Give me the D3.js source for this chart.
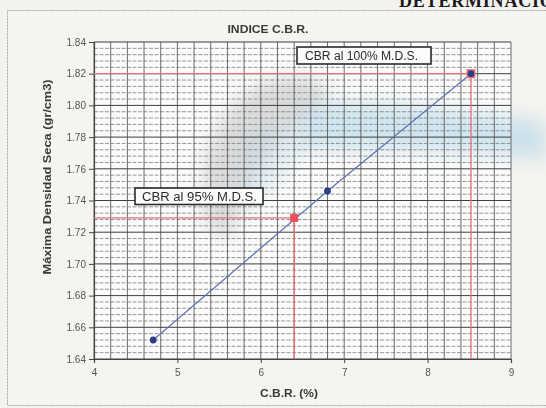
<!DOCTYPE html>
<html>
<head>
<meta charset="utf-8">
<script src="https://cdn.jsdelivr.net/npm/d3@7/dist/d3.min.js"></script>
<style>
  html, body { margin: 0; padding: 0; background: #f3f2ef; }
  svg { display: block; }
</style>
</head>
<body>
<svg id="chart" width="546" height="408"></svg>
<script>
// CBR test results: dry density vs. CBR
const cbrValues = [4.71, 6.80, 8.52];
const densityValues = [1.652, 1.746, 1.820];
const cbr95 = 6.40, density95 = 1.729;      // 95% of maximum dry density
const cbr100 = 8.52, density100 = 1.820;    // 100% of maximum dry density
const xTicks = [4, 5, 6, 7, 8, 9];
const yTicks = [1.64, 1.66, 1.68, 1.70, 1.72, 1.74, 1.76, 1.78, 1.80, 1.82, 1.84];
const chartTitle = "INDICE C.B.R.";
const pageHeading = "DETERMINACIÓN";
const xTitle = "C.B.R. (%)";
const yTitle = "Máxima Densidad Seca (gr/cm3)";
const label100 = "CBR al 100%  M.D.S.";
const label95 = "CBR al 95%  M.D.S.";

const svg = d3.select("#chart");
const font = "'Liberation Sans', Arial, sans-serif";

const x = d3.scaleLinear().domain([4, 9]).range([94, 511]);
const y = d3.scaleLinear().domain([1.64, 1.84]).range([359, 42]);

// blurred background stains on the sheet
const defs = svg.append("defs");
defs.append("filter").attr("id", "soft").attr("x", "-50%").attr("y", "-50%")
  .attr("width", "200%").attr("height", "200%")
  .append("feGaussianBlur").attr("stdDeviation", 9);

// page frame
svg.append("rect").attr("x", 7.5).attr("y", 10.5).attr("width", 600).attr("height", 395)
  .attr("fill", "#f5f4f1").attr("stroke", "#a9a9a9").attr("stroke-dasharray", "2,1");

// page heading (runs off the top and right edges of the sheet)
svg.append("text").attr("x", 399).attr("y", 6.5)
  .attr("font-family", "'Liberation Serif', 'Times New Roman', serif")
  .attr("font-weight", "bold").attr("font-size", 18).attr("fill", "#1a1a1a")
  .attr("letter-spacing", 0.8)
  .text(pageHeading);

// plot background
svg.append("rect").attr("x", x(4)).attr("y", y(1.84))
  .attr("width", x(9) - x(4)).attr("height", y(1.64) - y(1.84))
  .attr("fill", "#fbfbfa");

const stains = svg.append("g").attr("filter", "url(#soft)");
stains.append("path")
  .attr("d", "M205,220 C198,165 212,112 258,86 C288,70 318,74 332,92 C308,108 290,132 270,150 C252,175 240,205 228,245 Z")
  .attr("fill", "#c4c4c4").attr("opacity", 0.6);
stains.append("path")
  .attr("d", "M300,105 C360,95 450,108 546,122 L546,160 C450,150 380,150 300,150 Z")
  .attr("fill", "#a6cfe6").attr("opacity", 0.5);
stains.append("path")
  .attr("d", "M250,130 C280,120 300,125 310,140 C290,175 260,200 240,215 C235,180 238,150 250,130 Z")
  .attr("fill", "#b7d4e4").attr("opacity", 0.35);

// minor horizontal grid every 0.004
const minorY = d3.range(0, 51).map(i => 1.64 + i * 0.004).filter((v, i) => i % 5 !== 0);
svg.append("g").selectAll("line").data(minorY).join("line")
  .attr("x1", x(4)).attr("x2", x(9))
  .attr("y1", d => y(d)).attr("y2", d => y(d))
  .attr("stroke", "#7d7d7d").attr("stroke-width", 0.8).attr("stroke-dasharray", "4,1.5");

// vertical grid every 0.2
const gridX = d3.range(0, 26).map(i => 4 + i * 0.2);
svg.append("g").selectAll("line").data(gridX).join("line")
  .attr("x1", d => x(d)).attr("x2", d => x(d))
  .attr("y1", y(1.84)).attr("y2", y(1.64))
  .attr("stroke", "#5c5c5c").attr("stroke-width", 0.9);

// major horizontal grid
svg.append("g").selectAll("line").data(yTicks).join("line")
  .attr("x1", x(4)).attr("x2", x(9))
  .attr("y1", d => y(d)).attr("y2", d => y(d))
  .attr("stroke", "#3f3f3f").attr("stroke-width", 1);

// axes
const yAxis = svg.append("g").attr("transform", `translate(${x(4)},0)`)
  .call(d3.axisLeft(y).tickValues(yTicks).tickFormat(d3.format(".2f")).tickSize(5).tickPadding(3));
const xAxis = svg.append("g").attr("transform", `translate(0,${y(1.64)})`)
  .call(d3.axisBottom(x).tickValues(xTicks).tickFormat(d3.format("d")).tickSize(4).tickPadding(6));
[yAxis, xAxis].forEach(a => {
  a.select(".domain").attr("stroke", "#444").attr("stroke-width", 1.2);
  a.selectAll(".tick line").attr("stroke", "#444");
  a.selectAll(".tick text").attr("font-family", font).attr("font-size", 10)
    .attr("fill", "#555");
});

// reference lines for 95% and 100% density
const refColor = "#ea6f79";
const refs = [
  { cx: cbr100, cy: density100 },
  { cx: cbr95, cy: density95 }
];
refs.forEach(r => {
  svg.append("line").attr("x1", x(4)).attr("x2", x(r.cx))
    .attr("y1", y(r.cy)).attr("y2", y(r.cy))
    .attr("stroke", refColor).attr("stroke-width", 1.3);
  svg.append("line").attr("x1", x(r.cx)).attr("x2", x(r.cx))
    .attr("y1", y(r.cy)).attr("y2", y(1.64))
    .attr("stroke", refColor).attr("stroke-width", 1.3);
});

// density curve
const pts = cbrValues.map((c, i) => [c, densityValues[i]]);
svg.append("path").datum(pts)
  .attr("d", d3.line().x(d => x(d[0])).y(d => y(d[1])))
  .attr("fill", "none").attr("stroke", "#5b6fb5").attr("stroke-width", 1.1);

// reference markers
svg.append("rect").attr("x", x(cbr100) - 4.5).attr("y", y(density100) - 4.5)
  .attr("width", 9).attr("height", 9).attr("fill", "#e9707d");
svg.append("rect").attr("x", x(cbr95) - 4).attr("y", y(density95) - 4)
  .attr("width", 8).attr("height", 8).attr("fill", "#ec4f5c");

// test points
svg.append("g").selectAll("circle").data(pts).join("circle")
  .attr("cx", d => x(d[0])).attr("cy", d => y(d[1])).attr("r", 3.4)
  .attr("fill", "#2c3d86");

// annotation boxes
function labelBox(bx, by, bw, bh, txt, tx, ty, tlen) {
  svg.append("rect").attr("x", bx).attr("y", by).attr("width", bw).attr("height", bh)
    .attr("fill", "#fbfbfa").attr("stroke", "#2a2a2a").attr("stroke-width", 1.6);
  svg.append("text").attr("x", tx).attr("y", ty)
    .attr("font-family", font).attr("font-size", 12).attr("fill", "#2a2a2a")
    .attr("textLength", tlen).attr("lengthAdjust", "spacingAndGlyphs")
    .text(txt);
}
labelBox(297, 47, 134, 17, label100, 305, 59.5, 113);
labelBox(135, 188, 128, 16.5, label95, 142, 200.5, 115);

// titles
svg.append("text").attr("x", 268).attr("y", 33).attr("text-anchor", "middle")
  .attr("font-family", font).attr("font-weight", "bold").attr("font-size", 10.5)
  .attr("fill", "#3a3a3a").attr("textLength", 81).attr("lengthAdjust", "spacingAndGlyphs")
  .text(chartTitle);
svg.append("text").attr("x", 289).attr("y", 397).attr("text-anchor", "middle")
  .attr("font-family", font).attr("font-weight", "bold").attr("font-size", 10.5)
  .attr("fill", "#3a3a3a").attr("textLength", 58).attr("lengthAdjust", "spacingAndGlyphs")
  .text(xTitle);
svg.append("text").attr("transform", "translate(51,177) rotate(-90)")
  .attr("text-anchor", "middle")
  .attr("font-family", font).attr("font-weight", "bold").attr("font-size", 11)
  .attr("fill", "#3a3a3a").attr("textLength", 195).attr("lengthAdjust", "spacingAndGlyphs")
  .text(yTitle);
</script>
</body>
</html>
